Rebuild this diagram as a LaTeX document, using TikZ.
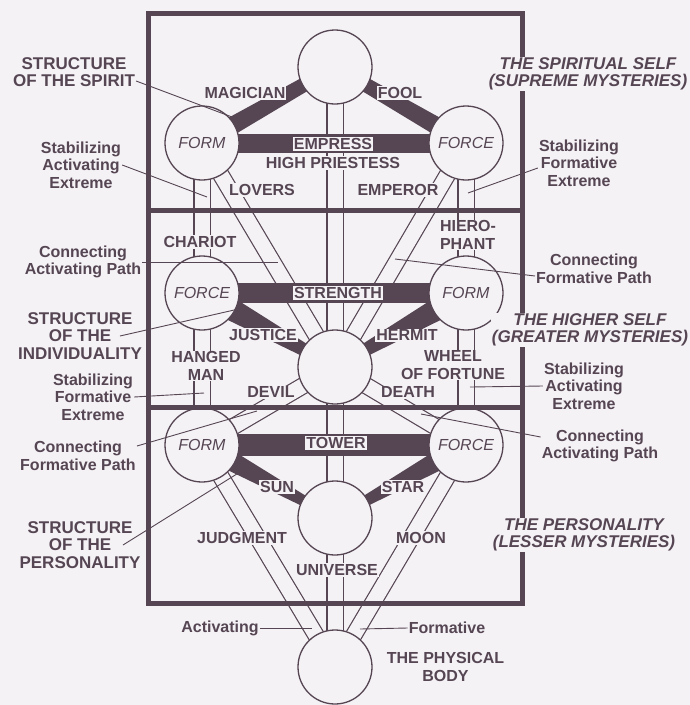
\documentclass[tikz,border=0pt]{standalone}
\usepackage{fontspec}
\setmainfont{Liberation Sans}
\usepackage{xcolor}
\usepackage{tikz}
\usetikzlibrary{calc, positioning}

\definecolor{ink}{RGB}{86,70,84}
\definecolor{paper}{RGB}{244,242,245}

\pgfdeclarelayer{back}
\pgfsetlayers{back,main}

% filled band between two circle centres, half widths at each end
\newcommand{\taper}[4]{%
  \fill[ink] ($(#1)!#3!90:(#2)$) -- ($(#2)!#4!-90:(#1)$)
    -- ($(#2)!#4!90:(#1)$) -- ($(#1)!#3!-90:(#2)$) -- cycle;}

\begin{document}
\begin{tikzpicture}[
    x=1pt, y=-1pt,
    sphere/.style={
        circle,
        draw=ink,
        line width=1.3pt,
        fill=paper,
        minimum size=74pt,
        inner sep=0pt,
        text=ink,
        font=\itshape\fontsize{16}{18}\selectfont
    },
    channel/.style={
        draw=ink,
        line width=1.2pt,
        double=paper,
        double distance=15pt
    },
    tag/.style={
        text=ink,
        inner sep=1pt,
        align=center,
        font=\bfseries\fontsize{16}{17.5}\selectfont
    },
    tagbg/.style={tag, fill=paper},
    cardbox/.style={tag, fill=paper, draw=ink, line width=0.8pt, inner sep=1.5pt},
    note/.style={tag},
    heading/.style={tag, font=\bfseries\fontsize{17}{17.5}\selectfont},
    realm/.style={tag, fill=paper, font=\bfseries\itshape\fontsize{17}{16.5}\selectfont},
    leader/.style={draw=ink, line width=0.9pt},
    frame/.style={draw=ink, line width=5pt}
]
\useasboundingbox (0,0) rectangle (690,705);

% the ten circles
\node[sphere] (spirit) at (335,67) {};
\node[sphere] (spiritform) at (202,143) {FORM};
\node[sphere] (spiritforce) at (466,143) {FORCE};
\node[sphere] (indforce) at (202,293) {FORCE};
\node[sphere] (indform) at (466,293) {FORM};
\node[sphere] (indcentre) at (335,367) {};
\node[sphere] (persform) at (202,445) {FORM};
\node[sphere] (persforce) at (466,445) {FORCE};
\node[sphere] (perscentre) at (335,518) {};
\node[sphere] (body) at (335,667) {};

\begin{pgfonlayer}{back}
\fill[paper] (0,0) rectangle (690,705);
% paths
\draw[channel] (spirit.center) -- (indcentre.center);
\draw[channel] (indcentre.center) -- (perscentre.center);
\draw[channel] (perscentre.center) -- (body.center);
\draw[channel] (spiritform.center) -- (indforce.center);
\draw[channel] (spiritforce.center) -- (indform.center);
\draw[channel] (spiritform.center) -- (indcentre.center);
\draw[channel] (spiritforce.center) -- (indcentre.center);
\draw[channel] (indforce.center) -- (persform.center);
\draw[channel] (indform.center) -- (persforce.center);
\draw[channel] (indcentre.center) -- (persform.center);
\draw[channel] (indcentre.center) -- (persforce.center);
\draw[channel] (persform.center) -- (body.center);
\draw[channel] (persforce.center) -- (body.center);
% structures
\taper{spirit.center}{spiritform.center}{6.5pt}{9.5pt}
\taper{spirit.center}{spiritforce.center}{6.5pt}{9.5pt}
\taper{spiritform.center}{spiritforce.center}{9.5pt}{9.5pt}
\taper{indforce.center}{indform.center}{10pt}{10pt}
\taper{indforce.center}{indcentre.center}{13pt}{4.5pt}
\taper{indform.center}{indcentre.center}{13pt}{4.5pt}
\taper{persform.center}{persforce.center}{11pt}{11pt}
\taper{persform.center}{perscentre.center}{11.5pt}{3.5pt}
\taper{persforce.center}{perscentre.center}{11.5pt}{3.5pt}
\end{pgfonlayer}

% frame
\draw[frame] (148,13) rectangle (522,603);
\draw[frame] (148,210) -- (522,210);
\draw[frame] (148,407) -- (522,407);

% path names
\node[tagbg] (magician) at (245,93) {MAGICIAN};
\node[tagbg] (fool) at (400,93) {FOOL};
\node[cardbox] (empress) at (333,144) {EMPRESS};
\node[tagbg] (priestess) at (333,163) {HIGH PRIESTESS};
\node[tagbg] (lovers) at (262,190) {LOVERS};
\node[tagbg] (emperor) at (398,190) {EMPEROR};
\node[tagbg] (chariot) at (200,242) {CHARIOT};
\node[tagbg, align=left] (hierophant) at (468,235) {HIERO-\\PHANT};
\node[cardbox] (strength) at (338,293) {STRENGTH};
\node[tagbg] (justice) at (263,335) {JUSTICE};
\node[tagbg] (hermit) at (407,335) {HERMIT};
\node[tagbg] (hanged) at (206,366) {HANGED\\MAN};
\node[tagbg] (wheel) at (453,365) {WHEEL\\OF FORTUNE};
\node[tagbg] (devil) at (271,392) {DEVIL};
\node[tagbg] (death) at (408,392) {DEATH};
\node[cardbox] (tower) at (336,443) {TOWER};
\node[tagbg] (sun) at (277,487) {SUN};
\node[tagbg] (star) at (403,487) {STAR};
\node[tagbg] (judgment) at (242,538) {JUDGMENT};
\node[tagbg] (moon) at (421,538) {MOON};
\node[tagbg] (universe) at (337,570) {UNIVERSE};

% left notes
\node[heading] (spiritlbl) at (74,72) {STRUCTURE\\OF THE SPIRIT};
\node[note] (lsae) at (81,165) {Stabilizing\\Activating\\Extreme};
\node[note] (lcap) at (83,262) {Connecting\\Activating Path};
\node[heading] (indlbl) at (80,336) {STRUCTURE\\OF THE\\INDIVIDUALITY};
\node[note] (lsfe) at (93,397) {Stabilizing\\Formative\\Extreme};
\node[note] (lcfp) at (78,456) {Connecting\\Formative Path};
\node[heading] (perlbl) at (80,545) {STRUCTURE\\OF THE\\PERSONALITY};

% right notes
\node[realm] (spiritual) at (588,74) {THE SPIRITUAL SELF\\(SUPREME MYSTERIES)};
\node[note] (rsfe) at (579,163) {Stabilizing\\Formative\\Extreme};
\node[note] (rcfp) at (594,269) {Connecting\\Formative Path};
\node[realm] (higher) at (590,330) {THE HIGHER SELF\\(GREATER MYSTERIES)};
\node[note] (rsae) at (584,386) {Stabilizing\\Activating\\Extreme};
\node[note] (rcap) at (600,446) {Connecting\\Activating Path};
\node[realm] (personality) at (584,535) {THE PERSONALITY\\(LESSER MYSTERIES)};

% bottom
\node[note] (activating) at (220,628) {Activating};
\node[note] (formative) at (447,628) {Formative};
\node[tag, right=13pt of body] (physical) {THE PHYSICAL\\BODY};

% leader ends
\coordinate (spiritend) at (240,120);
\coordinate (lsaeend) at (207,197);
\coordinate (lcapend) at (278,262);
\coordinate (indend) at (243,308);
\coordinate (lsfeend) at (204,393);
\coordinate (lcfpend) at (257,411);
\coordinate (perend) at (240,472);
\coordinate (rsfeend) at (468,193);
\coordinate (rcfpend) at (395,259);
\coordinate (rsaeend) at (470,387);
\coordinate (rcapend) at (421,414);
\coordinate (actend) at (312,628);
\coordinate (formend) at (360,629);

\draw[leader] ([yshift=-9pt]spiritlbl.east) -- (spiritend);
\draw[leader] (lsae.east) -- (lsaeend);
\draw[leader] (lcap.east) -- (lcapend);
\draw[leader] ([xshift=40pt]indlbl.center) -- (indend);
\draw[leader] (lsfe.east) -- (lsfeend);
\draw[leader] ([yshift=10pt]lcfp.east) -- (lcfpend);
\draw[leader] ([xshift=43pt]perlbl.center) -- (perend);
\draw[leader] ([yshift=-5pt]rsfe.west) -- (rsfeend);
\draw[leader] ([yshift=-7pt]rcfp.west) -- (rcfpend);
\draw[leader] (rsae.west) -- (rsaeend);
\draw[leader] ([yshift=9pt]rcap.west) -- (rcapend);
\draw[leader] (activating.east) -- (actend);
\draw[leader] (formative.west) -- (formend);

\end{tikzpicture}
\end{document}
